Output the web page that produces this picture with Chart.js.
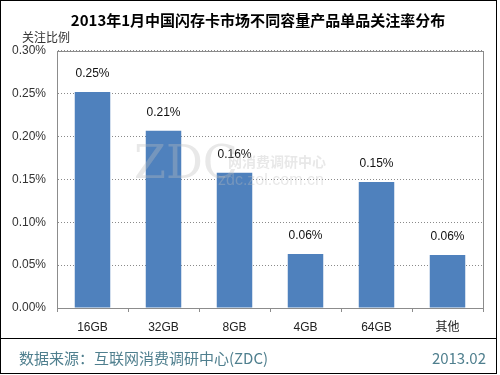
<!DOCTYPE html>
<html>
<head>
<meta charset="utf-8">
<script src="https://cdn.jsdelivr.net/npm/chart.js@4/dist/chart.umd.min.js"></script>
<style>
    html, body { margin: 0; padding: 0; background: #fff; }
    #moldura { position: relative; width: 500px; height: 375px; }
    #grafico { position: absolute; left: 0; top: 0; }
</style>
</head>
<body>
<div id="moldura">
    <canvas id="grafico" width="500" height="375"></canvas>
</div>
<script>
// dados (valores em %)
var categorias = ['16GB', '32GB', '8GB', '4GB', '64GB', '其他'];
var valores = [0.252, 0.207, 0.158, 0.063, 0.147, 0.062];
var ticksY = ['0.00%', '0.05%', '0.10%', '0.15%', '0.20%', '0.25%', '0.30%'];

var titulo = '2013年1月中国闪存卡市场不同容量产品单品关注率分布';
var tituloEixo = '关注比例';
var fonte = '数据来源：互联网消费调研中心(ZDC)';
var dataRelatorio = '2013.02';

var fonteLatina = '"Liberation Sans", "Noto Sans CJK SC", sans-serif';
var fonteChinesa = '"Noto Sans CJK SC", "Liberation Sans", sans-serif';

// textos, moldura e rodape
var pluginTextos = {
    id: 'textos',
    beforeDraw: function (chart) {
        var ctx = chart.ctx;
        var area = chart.chartArea;
        ctx.save();
        ctx.fillStyle = '#fff';
        ctx.fillRect(0, 0, 500, 375);

        ctx.fillStyle = '#000';
        ctx.font = 'bold 15px ' + fonteChinesa;
        ctx.textAlign = 'center';
        ctx.textBaseline = 'middle';
        ctx.fillText(titulo, 258, 20);

        ctx.fillStyle = '#333';
        ctx.font = '12px ' + fonteChinesa;
        ctx.textAlign = 'left';
        ctx.fillText(tituloEixo, 22, 37);

        // caixa da area do grafico
        ctx.strokeStyle = '#8c8c8c';
        ctx.lineWidth = 1;
        ctx.strokeRect(Math.round(area.left) + 0.5, Math.round(area.top) + 0.5,
            Math.round(area.right - area.left), Math.round(area.bottom - area.top));
        ctx.restore();
    },
    afterDraw: function (chart) {
        var ctx = chart.ctx;
        var meta = chart.getDatasetMeta(0);
        ctx.save();

        // rotulos das barras
        ctx.fillStyle = '#111';
        ctx.font = '12px ' + fonteLatina;
        ctx.textAlign = 'center';
        ctx.textBaseline = 'bottom';
        meta.data.forEach(function (barra, i) {
            ctx.fillText(valores[i].toFixed(2) + '%', barra.x, barra.y - 12);
        });

        // marca d'agua
        ctx.fillStyle = 'rgba(190, 190, 190, 0.35)';
        ctx.font = '46px "DejaVu Serif", serif';
        ctx.textAlign = 'left';
        ctx.textBaseline = 'middle';
        ctx.fillText('ZDC', 134, 166);
        ctx.font = 'bold 14px ' + fonteChinesa;
        ctx.fillText('网消费调研中心', 228, 162);
        ctx.font = '16px ' + fonteLatina;
        ctx.fillText('zdc.zol.com.cn', 218, 181);

        // rodape
        ctx.strokeStyle = '#000';
        ctx.lineWidth = 1;
        ctx.beginPath();
        ctx.moveTo(0, 338.5);
        ctx.lineTo(496, 338.5);
        ctx.stroke();

        ctx.fillStyle = '#4f7f8e';
        ctx.font = '15px ' + fonteChinesa;
        ctx.textAlign = 'left';
        ctx.textBaseline = 'middle';
        ctx.fillText(fonte, 19, 358);
        ctx.textAlign = 'right';
        ctx.fillText(dataRelatorio, 486, 358);

        // moldura externa
        ctx.strokeStyle = '#000';
        ctx.strokeRect(0.5, 0.5, 496, 373);
        ctx.restore();
    }
};

var ctxGrafico = document.getElementById('grafico').getContext('2d');

var graficoBarras = new Chart(ctxGrafico, {
    type: 'bar',
    data: {
        labels: categorias,
        datasets: [{
            data: valores,
            backgroundColor: '#4f81bd',
            borderWidth: 0,
            categoryPercentage: 1,
            barPercentage: 0.5
        }]
    },
    options: {
        responsive: false,
        animation: false,
        layout: {
            padding: { left: 0, top: 51, right: 17, bottom: 37 }
        },
        plugins: {
            legend: { display: false },
            tooltip: { enabled: false }
        },
        scales: {
            x: {
                offset: true,
                afterFit: function (escala) { escala.height = 30; },
                grid: {
                    offset: true,
                    drawOnChartArea: false,
                    drawTicks: true,
                    tickLength: 4,
                    color: '#8c8c8c'
                },
                border: { color: '#8c8c8c' },
                ticks: {
                    color: '#222',
                    padding: 8,
                    font: { size: 12, family: fonteLatina }
                }
            },
            y: {
                min: 0,
                max: 0.3,
                afterFit: function (escala) { escala.width = 57; },
                afterBuildTicks: function (escala) {
                    escala.ticks = ticksY.map(function (t, i) { return { value: i * 0.05 }; });
                },
                grid: {
                    color: '#8a8a8a',
                    lineWidth: 1,
                    drawTicks: false
                },
                border: { color: '#8c8c8c', dash: [1, 2] },
                ticks: {
                    color: '#333',
                    padding: 11,
                    font: { size: 12, family: fonteLatina },
                    callback: function (valor, indice) { return ticksY[indice]; }
                }
            }
        }
    },
    plugins: [pluginTextos]
});
</script>
</body>
</html>
